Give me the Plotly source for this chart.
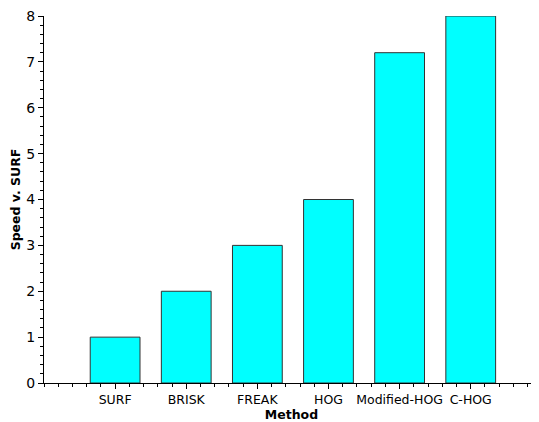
import plotly.graph_objects as go

methods = ["SURF", "BRISK", "FREAK", "HOG", "Modified-HOG", "C-HOG"]
speed = [1, 2, 3, 4, 7.2, 8]
positions = [1, 2, 3, 4, 5, 6]

fig = go.Figure()
fig.add_trace(go.Bar(
    x=positions, y=speed, width=0.7,
    marker=dict(color="#00FFFF", line=dict(color="#333333", width=1)),
))

font_family = "DejaVu Sans"
# page body has an 8px default margin, so the figure is sized to fit the window
fig.update_layout(
    width=531, height=414,
    margin=dict(l=36, r=0, t=8, b=39),
    paper_bgcolor="white", plot_bgcolor="white",
    showlegend=False,
    font=dict(family=font_family, color="black"),
    xaxis=dict(
        range=[0, 6.96],
        tickmode="array", tickvals=positions, ticktext=methods,
        ticks="outside", ticklen=5, tickcolor="black", tickwidth=1,
        minor=dict(ticks="outside", ticklen=3, dtick=0.2, tick0=0, tickcolor="black"),
        showline=True, linecolor="black", linewidth=1,
        showgrid=False, zeroline=False, automargin=False,
        tickfont=dict(size=12.5, family=font_family),
        title=dict(text="<b>Method</b>", font=dict(size=12.5, family=font_family), standoff=1),
    ),
    yaxis=dict(
        range=[0, 8],
        tickmode="linear", tick0=0, dtick=1,
        ticks="outside", ticklen=5, tickcolor="black", tickwidth=1,
        minor=dict(ticks="outside", ticklen=3, dtick=0.2, tick0=0, tickcolor="black"),
        showline=True, linecolor="black", linewidth=1,
        showgrid=False, zeroline=False, automargin=False,
        ticklabeloverflow="allow",
        tickfont=dict(size=14, family=font_family),
        title=dict(text="<b>Speed v. SURF</b>", font=dict(size=12.5, family=font_family), standoff=3),
    ),
)

fig.write_html("out.html")
